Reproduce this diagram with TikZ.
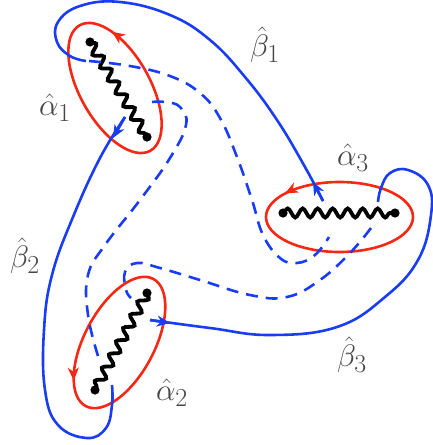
\documentclass[tikz,border=0pt]{standalone}
\usetikzlibrary{decorations.pathmorphing,decorations.markings,arrows.meta}
\definecolor{bl}{RGB}{25,60,245}
\definecolor{rd}{RGB}{245,40,20}
\definecolor{tx}{RGB}{70,70,70}
\newcommand{\biglbl}[1]{\scalebox{1.25}{$#1$}}
\tikzset{
  redloop/.style={draw, color=rd, line width=2.6pt},
  bsolid/.style={draw, color=bl, line width=2.6pt},
  bdash/.style={draw, color=bl, line width=2.6pt, dash pattern=on 12pt off 8pt},
  cutline/.style={draw=black, line width=3.8pt, line cap=round, decorate,
    decoration={snake, segment length=15pt, amplitude=4.5pt}},
  enddot/.style={fill=black},
  tipmark/.style={postaction={decorate, decoration={markings,
    mark=at position #1 with {\arrow{Stealth[length=13pt,width=11pt,inset=4pt]}}}}},
  btip/.style={draw, color=bl, line width=2.6pt, -{Stealth[length=13pt,width=11pt,inset=4pt]}},
  lbl/.style={text=tx, font=\fontsize{24.88}{30}\selectfont, inner sep=0pt},
}
\begin{document}
\begin{tikzpicture}[x=1pt, y=-1pt]
\useasboundingbox (0,0) rectangle (433,445);

% red loops alpha
\draw[redloop, tipmark=0.40, rotate around={-60.6:(115,88)}] (115,88) ellipse [x radius=72pt, y radius=35pt];
\draw[redloop, tipmark=0.415, rotate around={62:(119.5,342.5)}] (119.5,342.5) ellipse [x radius=72pt, y radius=35pt];
\draw[redloop, tipmark=0.41] (339.5,217) ellipse [x radius=73.5pt, y radius=35pt];

% branch cuts
\coordinate (c1a) at (90,42);   \coordinate (c1b) at (147,137);
\coordinate (c2a) at (147,293); \coordinate (c2b) at (95,390);
\coordinate (c3a) at (283,213); \coordinate (c3b) at (395,213);
\draw[cutline] (c1a) -- (c1b);
\draw[cutline] (c2a) -- (c2b);
\draw[cutline] (c3a) -- (c3b);
\foreach \p in {c1a,c1b,c2a,c2b,c3a,c3b} \fill[enddot] (\p) circle (4.6pt);

% beta 1
\draw[bsolid] plot[smooth, tension=0.7] coordinates {
  (323,201) (305,167) (277,120) (245,77) (210,40) (170,15) (120,2) (80,6)
  (58,22) (57,42) (70,56) (86,61)};
\draw[bdash] plot[smooth, tension=0.7] coordinates {
  (89,61) (130,66) (170,76) (200,93) (220,118) (237,157) (252,200) (263,235)
  (280,258) (297,263) (315,255) (329,237)};
\coordinate (t1a) at (323,201); \coordinate (t1b) at (313,182);
\draw[btip] (t1a) -- (t1b);

% beta 2
\draw[bsolid] plot[smooth, tension=0.7] coordinates {
  (125,117) (100,158) (73,217) (52,275) (44,330) (45,390) (58,425) (87,438)
  (106,428) (112,405) (112,385)};
\draw[bdash] plot[smooth, tension=0.7] coordinates {
  (98,356) (88,315) (88,275) (105,245) (140,200) (170,158) (186,125) (180,107)
  (165,102) (152,102)};
\coordinate (t2a) at (125,117); \coordinate (t2b) at (113,138);
\draw[btip] (t2a) -- (t2b);

% beta 3
\draw[bsolid] plot[smooth, tension=0.7] coordinates {
  (150,320) (210,328) (270,335) (337,327) (385,297) (418,260) (431,215) (428,185)
  (408,170) (390,173) (381,188) (378,202)};
\draw[bdash] plot[smooth, tension=0.7] coordinates {
  (371,228) (350,253) (320,280) (287,297) (250,295) (200,280) (160,268) (137,263)
  (125,272) (126,290) (131,298)};
\coordinate (t3a) at (150,320); \coordinate (t3b) at (170,323);
\draw[btip] (t3a) -- (t3b);

% labels
\node[lbl] (a1) at (55,108) {\biglbl{\hat{\alpha}_1}};
\node[lbl] (a2) at (172,393) {\biglbl{\hat{\alpha}_2}};
\node[lbl] (a3) at (353,158) {\biglbl{\hat{\alpha}_3}};
\node[lbl] (b1) at (265,45) {\biglbl{\hat{\beta}_1}};
\node[lbl] (b2) at (25,256) {\biglbl{\hat{\beta}_2}};
\node[lbl] (b3) at (352,355) {\biglbl{\hat{\beta}_3}};
\end{tikzpicture}
\end{document}
